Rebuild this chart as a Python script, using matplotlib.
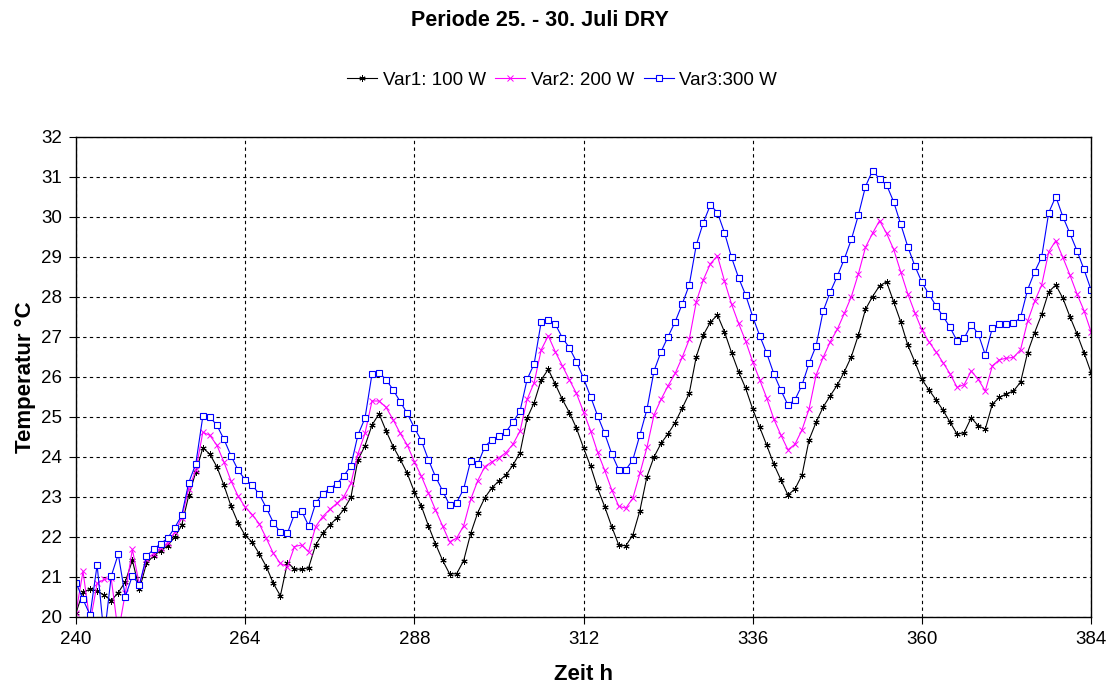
import numpy as np
import matplotlib
matplotlib.use("Agg")
import matplotlib.pyplot as plt

plt.rcParams["font.family"] = ["Liberation Sans", "DejaVu Sans"]

# hourly values, hour 240 .. 385 (last point runs past the axis end)
hours = np.arange(240, 386)

var1 = [
    20.1, 20.63, 20.69, 20.65, 20.55, 20.41, 20.61, 20.88, 21.42, 20.69,
    21.34, 21.53, 21.66, 21.78, 22.0, 22.29, 23.04, 23.62, 24.23, 24.07,
    23.75, 23.29, 22.77, 22.35, 22.04, 21.87, 21.58, 21.26, 20.84, 20.53,
    21.36, 21.2, 21.19, 21.23, 21.8, 22.09, 22.3, 22.47, 22.69, 22.99,
    23.93, 24.28, 24.8, 25.08, 24.65, 24.26, 23.94, 23.59, 23.13, 22.77,
    22.28, 21.83, 21.42, 21.08, 21.08, 21.41, 22.09, 22.61, 22.98, 23.23,
    23.4, 23.55, 23.8, 24.11, 24.97, 25.36, 25.93, 26.19, 25.82, 25.44,
    25.11, 24.72, 24.23, 23.77, 23.22, 22.76, 22.26, 21.8, 21.78, 22.05,
    22.66, 23.51, 24.0, 24.34, 24.58, 24.86, 25.22, 25.59, 26.51, 27.05,
    27.37, 27.55, 27.13, 26.61, 26.13, 25.72, 25.2, 24.74, 24.29, 23.82,
    23.43, 23.05, 23.2, 23.55, 24.43, 24.87, 25.25, 25.53, 25.8, 26.13,
    26.51, 27.05, 27.69, 28.01, 28.28, 28.38, 27.88, 27.38, 26.8, 26.38,
    25.94, 25.68, 25.43, 25.17, 24.87, 24.57, 24.61, 24.98, 24.78, 24.7,
    25.32, 25.49, 25.58, 25.65, 25.87, 26.61, 27.11, 27.57, 28.13, 28.3,
    27.97, 27.51, 27.08, 26.61, 26.11, 25.3,
]

var2 = [
    20.11, 21.14, 19.85, 20.84, 20.94, 20.97, 19.6, 20.6, 21.69, 20.8,
    21.45, 21.58, 21.73, 21.85, 22.12, 22.48, 23.21, 23.67, 24.62, 24.54,
    24.29, 23.87, 23.4, 23.02, 22.75, 22.56, 22.33, 21.97, 21.59, 21.34,
    21.26, 21.76, 21.8, 21.63, 22.26, 22.51, 22.69, 22.84, 23.01, 23.34,
    24.08, 24.59, 25.4, 25.4, 25.24, 24.93, 24.59, 24.3, 23.88, 23.52,
    23.1, 22.68, 22.28, 21.88, 21.97, 22.28, 22.94, 23.41, 23.76, 23.88,
    23.98, 24.11, 24.32, 24.65, 25.44, 25.86, 26.68, 27.03, 26.63, 26.28,
    25.93, 25.59, 25.13, 24.66, 24.12, 23.67, 23.18, 22.77, 22.72, 22.97,
    23.59, 24.24, 25.05, 25.44, 25.78, 26.09, 26.49, 26.94, 27.88, 28.43,
    28.83, 29.03, 28.4, 27.82, 27.34, 26.9, 26.38, 25.93, 25.47, 24.95,
    24.55, 24.18, 24.32, 24.68, 25.2, 26.05, 26.49, 26.88, 27.19, 27.59,
    28.01, 28.58, 29.24, 29.59, 29.91, 29.59, 29.19, 28.63, 28.08, 27.61,
    27.18, 26.88, 26.63, 26.36, 26.08, 25.74, 25.81, 26.15, 25.94, 25.65,
    26.28, 26.43, 26.47, 26.49, 26.68, 27.39, 27.89, 28.3, 29.13, 29.41,
    28.99, 28.55, 28.08, 27.66, 27.13, 26.2,
]

var3 = [
    20.86, 20.44, 20.05, 21.3, 19.5, 21.02, 21.57, 20.51, 21.03, 20.8,
    21.52, 21.69, 21.83, 21.97, 22.23, 22.54, 23.36, 23.83, 25.02, 25.0,
    24.79, 24.44, 24.03, 23.67, 23.43, 23.3, 23.07, 22.73, 22.36, 22.12,
    22.1, 22.57, 22.66, 22.28, 22.84, 23.08, 23.21, 23.33, 23.53, 23.78,
    24.55, 24.97, 26.08, 26.11, 25.93, 25.68, 25.38, 25.09, 24.73, 24.41,
    23.93, 23.51, 23.16, 22.8, 22.86, 23.2, 23.91, 23.82, 24.26, 24.43,
    24.53, 24.63, 24.87, 25.15, 25.94, 26.33, 27.38, 27.43, 27.32, 26.98,
    26.73, 26.38, 25.97, 25.51, 25.03, 24.59, 24.08, 23.68, 23.68, 23.93,
    24.55, 25.19, 26.15, 26.63, 27.01, 27.38, 27.82, 28.3, 29.3, 29.86,
    30.3, 30.11, 29.61, 28.99, 28.48, 28.05, 27.51, 27.03, 26.59, 26.08,
    25.67, 25.3, 25.43, 25.8, 26.34, 26.78, 27.65, 28.12, 28.52, 28.95,
    29.44, 30.05, 30.76, 31.16, 30.95, 30.8, 30.38, 29.82, 29.26, 28.78,
    28.37, 28.07, 27.78, 27.52, 27.24, 26.9, 26.97, 27.31, 27.08, 26.55,
    27.23, 27.33, 27.33, 27.34, 27.49, 28.18, 28.63, 29.0, 30.11, 30.51,
    30.01, 29.59, 29.16, 28.69, 28.18, 27.33,
]

labels = ["Var1: 100 W", "Var2: 200 W", "Var3:300 W"]
x_ticks = np.arange(240, 385, 24)
y_ticks = np.arange(20, 33, 1)

fig = plt.figure(figsize=(11.09, 6.87), dpi=100)
ax = fig.add_axes([0.0685, 0.1019, 0.9153, 0.6987])

ax.plot(hours, var1, color="black", linewidth=0.8,
        marker=(6, 2, 0), markersize=4.5, markeredgewidth=0.7,
        label=labels[0])
ax.plot(hours, var2, color="#ff00ff", linewidth=0.8,
        marker="x", markersize=3.8, markeredgewidth=0.7,
        label=labels[1])
ax.plot(hours, var3, color="#0000ff", linewidth=0.8,
        marker="s", markersize=4, markeredgewidth=0.8,
        markerfacecolor="white", label=labels[2])

ax.set_xlim(240, 384)
ax.set_ylim(20, 32)
ax.set_xticks(x_ticks)
ax.set_yticks(y_ticks)
ax.tick_params(direction="out", length=5, width=0.8, labelsize=13.5, pad=5)
ax.grid(True, color="black", linestyle=(0, (3, 3)), linewidth=0.8)
for s in ax.spines.values():
    s.set_linewidth(1.0)
    s.set_color("black")

ax.set_xlabel("Zeit h", fontsize=16, fontweight="bold", va="center")
ax.set_ylabel("Temperatur °C", fontsize=16, fontweight="bold", va="center")
ax.xaxis.set_label_coords(0.5, -0.1208)
ax.yaxis.set_label_coords(-0.0502, 0.5)

fig.text(540 / 1109, 1 - 20 / 687, "Periode 25. - 30. Juli DRY",
         ha="center", va="center", fontsize=15.5, fontweight="bold")

fig.legend(loc="center", bbox_to_anchor=(562 / 1109, 1 - 80 / 687), ncol=3,
           frameon=False, fontsize=13.5, handlelength=1.6, handletextpad=0.3,
           columnspacing=0.5)

fig.savefig("out.png", dpi=100)
